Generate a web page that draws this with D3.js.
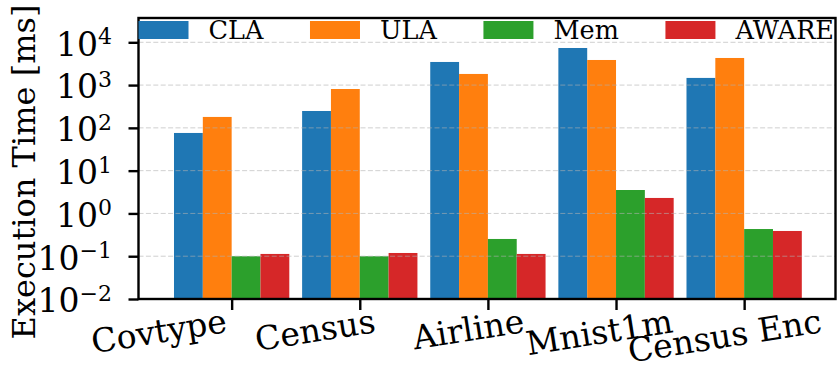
<!DOCTYPE html>
<html>
<head>
<meta charset="utf-8">
<script src="https://cdn.jsdelivr.net/npm/d3@7"></script>
<style>
  body { margin: 0; background: #fff; }
  svg { display: block; }
  text { font-family: "DejaVu Serif", serif; fill: #000; }
</style>
</head>
<body>
<svg id="chart" width="838" height="371"></svg>
<script>
// Datasets on the x axis
const categories = ["Covtype", "Census", "Airline", "Mnist1m", "Census Enc"];
// Compression schemes, one bar per dataset each
const seriesNames = ["CLA", "ULA", "Mem", "AWARE"];
// Execution time in milliseconds
const claTimes   = [76, 248, 3470, 7360, 1470];
const ulaTimes   = [180, 810, 1820, 3860, 4300];
const memTimes   = [0.1, 0.1, 0.253, 3.53, 0.432];
const awareTimes = [0.113, 0.119, 0.113, 2.3, 0.389];
const seriesValues = [claTimes, ulaTimes, memTimes, awareTimes];
const seriesColors = ["#1f77b4", "#ff7f0e", "#2ca02c", "#d62728"];
// Powers of ten shown on the log axis
const tickExponents = [-2, -1, 0, 1, 2, 3, 4];
const yLabelText = "Execution Time [ms]";

// Plot frame
const plotLeft = 138.5, plotRight = 835.5, plotTop = 18, plotBottom = 299;
const tickFont = 33, legendFont = 25.5, labelFont = 32;
const barWidth = 0.225;

const svg = d3.select("#chart");
svg.append("rect").attr("width", 838).attr("height", 371).attr("fill", "#fff");

const x = d3.scaleLinear().domain([-0.727, 4.713]).range([plotLeft, plotRight]);
const y = d3.scaleLog().domain([0.01, Math.pow(10, 4.568)]).range([plotBottom, plotTop]);

// Bars
const barsG = svg.append("g");
seriesValues.forEach((vals, s) => {
  barsG.selectAll(null)
    .data(vals.map((v, i) => ({ v, i })))
    .enter().append("rect")
    .attr("x", d => x(d.i - 2 * barWidth + s * barWidth))
    .attr("width", x(barWidth) - x(0))
    .attr("y", d => y(d.v))
    .attr("height", d => plotBottom - y(d.v))
    .attr("fill", seriesColors[s]);
});

// Dashed horizontal grid drawn over the bars
svg.append("g").selectAll("line")
  .data(tickExponents.filter(e => e > -2))
  .enter().append("line")
  .attr("x1", plotLeft).attr("x2", plotRight)
  .attr("y1", e => y(Math.pow(10, e))).attr("y2", e => y(Math.pow(10, e)))
  .attr("stroke", "#b0b0b0").attr("stroke-opacity", 0.6)
  .attr("stroke-width", 1).attr("stroke-dasharray", "5,2.4");

// Y axis ticks
const yAxis = svg.append("g").attr("transform", `translate(${plotLeft},0)`)
  .call(d3.axisLeft(y).tickValues(tickExponents.map(e => Math.pow(10, e))).tickSize(10).tickFormat(""));
yAxis.select(".domain").remove();
yAxis.selectAll("line").attr("stroke", "#000").attr("stroke-width", 2.4);

// Y tick labels as 10 with a superscript exponent
const yLabels = svg.append("g");
tickExponents.forEach(e => {
  const ty = y(Math.pow(10, e));
  const t = yLabels.append("text")
    .attr("x", 112).attr("y", ty + 13.4)
    .attr("text-anchor", "end")
    .attr("font-size", tickFont);
  t.append("tspan").text("10");
  t.append("tspan").attr("font-size", 22).attr("dy", -11.4)
    .text(e < 0 ? "\u2212" + Math.abs(e) : String(e));
});

// X axis ticks
const xAxis = svg.append("g").attr("transform", `translate(0,${plotBottom})`)
  .call(d3.axisBottom(x).tickValues(categories.map((c, i) => i)).tickSize(11).tickFormat(""));
xAxis.select(".domain").remove();
xAxis.selectAll("line").attr("stroke", "#000").attr("stroke-width", 2.4);

// Slanted category labels
const labelEnd = d3.scaleLinear().domain([0, categories.length - 1]).range([228, 823]);
svg.append("g").selectAll("text")
  .data(categories)
  .enter().append("text")
  .attr("transform", (d, i) => `translate(${labelEnd(i)},332) rotate(-9)`)
  .attr("text-anchor", "end")
  .attr("font-size", tickFont)
  .text(d => d);

// Frame
svg.append("rect")
  .attr("x", plotLeft).attr("y", plotTop)
  .attr("width", plotRight - plotLeft).attr("height", plotBottom - plotTop)
  .attr("fill", "none").attr("stroke", "#000").attr("stroke-width", 2.4);

// Y axis title
svg.append("text")
  .attr("transform", "translate(35,172) rotate(-90)")
  .attr("text-anchor", "middle")
  .attr("font-size", labelFont)
  .text(yLabelText);

// Legend spread across the top of the plot
const legend = svg.append("g");
const handleW = 50, handleH = 18, textPad = 20;
const items = seriesNames.map((name, s) => {
  const g = legend.append("g");
  g.append("rect").attr("y", 21).attr("width", handleW).attr("height", handleH).attr("fill", seriesColors[s]);
  const t = g.append("text").attr("x", handleW + textPad).attr("y", 39)
    .attr("font-size", legendFont).text(name);
  return { g, w: handleW + textPad + t.node().getComputedTextLength() };
});
const legendLeft = plotLeft, legendRight = 834;
const totalW = d3.sum(items, d => d.w);
const gap = (legendRight - legendLeft - totalW) / (items.length - 1);
let cx = legendLeft;
items.forEach(it => { it.g.attr("transform", `translate(${cx},0)`); cx += it.w + gap; });
</script>
</body>
</html>
